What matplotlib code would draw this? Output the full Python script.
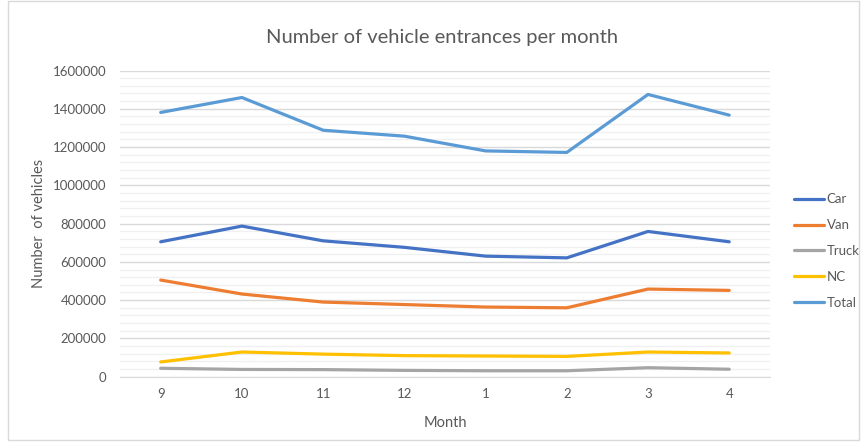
import matplotlib.pyplot as plt
from matplotlib.patches import Rectangle
from matplotlib.ticker import MultipleLocator, StrMethodFormatter

months = ["9", "10", "11", "12", "1", "2", "3", "4"]
car = [705000, 787000, 710000, 676000, 630000, 621000, 759000, 705000]
van = [505000, 432000, 390000, 377000, 364000, 360000, 458000, 451000]
truck = [44000, 38000, 37000, 33000, 31000, 31000, 47000, 39000]
nc = [77000, 129000, 118000, 110000, 108000, 106000, 129000, 124000]
total = [1381000, 1459000, 1288000, 1257000, 1180000, 1172000, 1475000, 1367000]

series = [("Car", car, "#4472C4"), ("Van", van, "#ED7D31"), ("Truck", truck, "#A5A5A5"),
          ("NC", nc, "#FFC000"), ("Total", total, "#5B9BD5")]

plt.rcParams["font.family"] = ["Lato", "DejaVu Sans"]
txt = "#595959"

fig = plt.figure(figsize=(8.64, 4.45), dpi=100)
ax = fig.add_axes([0.139, 0.1535, 0.752, 0.688])
x = range(len(months))
for name, vals, color in series:
    ax.plot(x, vals, color=color, linewidth=2.3, label=name, solid_capstyle="round")

ax.set_xlim(-0.5, len(months) - 0.5)
ax.set_ylim(0, 1600000)
ax.yaxis.set_major_locator(MultipleLocator(200000))
ax.yaxis.set_minor_locator(MultipleLocator(40000))
ax.yaxis.set_major_formatter(StrMethodFormatter("{x:.0f}"))
ax.grid(axis="y", which="major", color="#d9d9d9", linewidth=1)
ax.grid(axis="y", which="minor", color="#f0f0f0", linewidth=1)
ax.set_axisbelow(True)
ax.set_xticks(list(x))
ax.set_xticklabels(months)
for s in ("top", "right", "left"):
    ax.spines[s].set_visible(False)
ax.spines["bottom"].set_color("#d9d9d9")
ax.tick_params(axis="both", which="both", length=0, colors=txt, labelsize=9.5)
ax.tick_params(axis="x", pad=8)
ax.tick_params(axis="y", pad=10)
ax.set_xlabel("Month", color=txt, fontsize=10.5, labelpad=12)
ax.set_ylabel("Number  of vehicles", color=txt, fontsize=10.5, labelpad=5)
fig.suptitle("Number of vehicle entrances per month", color=txt, fontsize=14.5, x=0.512, y=0.935)

leg = fig.legend(loc="center left", bbox_to_anchor=(0.905, 0.436), frameon=False, fontsize=9.5,
                 handlelength=2.3, handletextpad=0.2, labelspacing=1.05, labelcolor=txt)

fig.patches.append(Rectangle((0.009, 0.012), 0.985, 0.985, transform=fig.transFigure,
                             fill=False, edgecolor="#d9d9d9", linewidth=1))
fig.savefig("out.png", dpi=100)
